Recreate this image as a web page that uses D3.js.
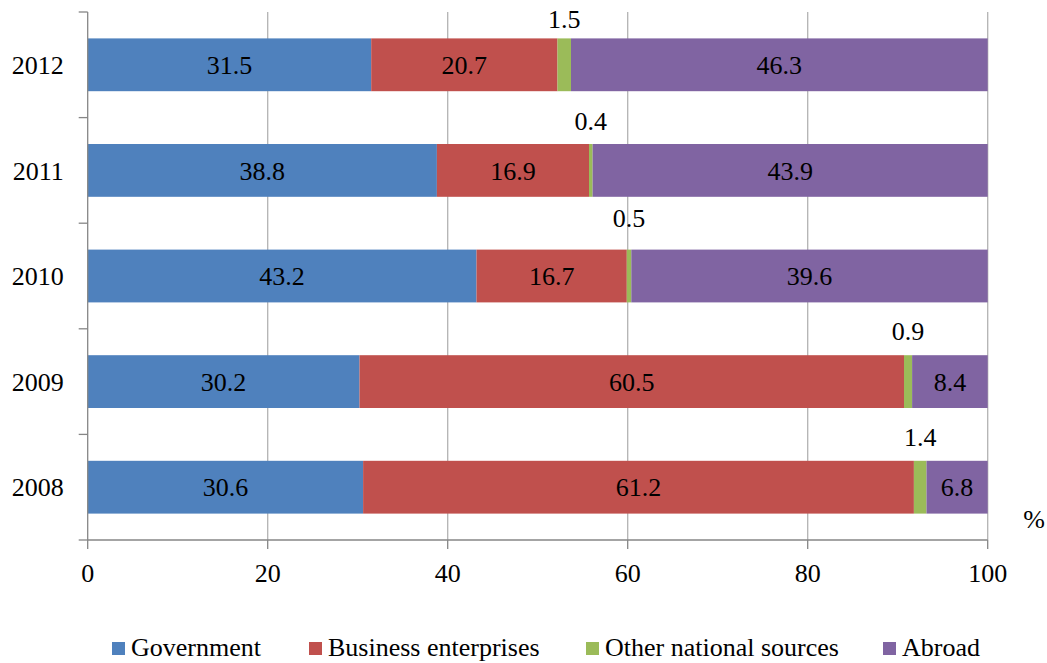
<!DOCTYPE html>
<html>
<head>
<meta charset="utf-8">
<script src="https://cdn.jsdelivr.net/npm/d3@7"></script>
<style>
  body { margin: 0; background: #fff; }
</style>
</head>
<body>
<div id="chart"></div>
<script>
// years top to bottom, as in the picture
const years = ["2012", "2011", "2010", "2009", "2008"];
const seriesNames = ["Government", "Business enterprises", "Other national sources", "Abroad"];
const government = [31.5, 38.8, 43.2, 30.2, 30.6];
const business = [20.7, 16.9, 16.7, 60.5, 61.2];
const otherNational = [1.5, 0.4, 0.5, 0.9, 1.4];
const abroad = [46.3, 43.9, 39.6, 8.4, 6.8];
const xTicks = [0, 20, 40, 60, 80, 100];

const colors = ["#4F81BD", "#C0504D", "#9BBB59", "#8064A2"];
const fontName = "'Liberation Serif', 'DejaVu Serif', 'Noto Serif', serif";

const W = 1047, H = 663;
const m = {t: 12, l: 87.7, w: 900, h: 528};
// how far the small green labels sit above their bar (moved by hand in the original)
const greenLift = [10, 14, 23, 15, 15];

// build rows for the stack
const rows = years.map((y, i) => ({
    year: y,
    "Government": government[i],
    "Business enterprises": business[i],
    "Other national sources": otherNational[i],
    "Abroad": abroad[i]
}));
const stacked = d3.stack().keys(seriesNames)(rows);

const svg = d3.select("#chart").append("svg")
    .attr("width", W).attr("height", H)
    .attr("font-family", fontName);
const g = svg.append("g").attr("transform", "translate(" + m.l + "," + m.t + ")");

const xScale = d3.scaleLinear().domain([0, 100]).range([0, m.w]);
const yScale = d3.scaleBand().domain(years).range([0, m.h]).paddingInner(0.5).paddingOuter(0.25);
const yBand = d3.scaleBand().domain(years).range([0, m.h]);

// vertical gridlines
g.selectAll(".grid").data(xTicks.slice(1)).enter().append("line")
    .attr("x1", d => xScale(d)).attr("x2", d => xScale(d))
    .attr("y1", 0).attr("y2", m.h)
    .attr("stroke", "#B3B3B3").attr("stroke-width", 1.3);

// bars
const layers = g.selectAll(".layer").data(stacked).enter().append("g")
    .attr("fill", (d, i) => colors[i]);
layers.selectAll("rect").data(d => d).enter().append("rect")
    .attr("x", d => xScale(d[0]))
    .attr("y", d => yScale(d.data.year))
    .attr("width", d => xScale(d[1]) - xScale(d[0]))
    .attr("height", yScale.bandwidth());

// value labels
stacked.forEach((layer, li) => {
    g.selectAll(".lbl" + li).data(layer).enter().append("text")
        .attr("x", d => xScale((d[0] + d[1]) / 2))
        .attr("y", (d, i) => li === 2 ? yScale(d.data.year) - greenLift[i] : yScale(d.data.year) + yScale.bandwidth() / 2)
        .attr("dy", li === 2 ? 0 : "0.35em")
        .attr("text-anchor", "middle")
        .attr("font-size", 26)
        .text(d => (d[1] - d[0]).toFixed(1));
});

// y axis
const yAxis = g.append("g");
yAxis.append("line").attr("x1", 0).attr("x2", 0).attr("y1", 0).attr("y2", m.h)
    .attr("stroke", "#868686").attr("stroke-width", 1.3);
yAxis.selectAll(".yt").data(years).enter().append("line")
    .attr("x1", -9).attr("x2", 0)
    .attr("y1", d => yBand(d)).attr("y2", d => yBand(d))
    .attr("stroke", "#868686").attr("stroke-width", 1.3);
yAxis.append("line").attr("x1", -9).attr("x2", 0).attr("y1", m.h).attr("y2", m.h)
    .attr("stroke", "#868686").attr("stroke-width", 1.3);
yAxis.selectAll(".ylab").data(years).enter().append("text")
    .attr("x", -24)
    .attr("y", d => yBand(d) + yBand.bandwidth() / 2)
    .attr("dy", "0.35em")
    .attr("text-anchor", "end")
    .attr("font-size", 26)
    .text(d => d);

// x axis
const xAxis = g.append("g").attr("transform", "translate(0," + m.h + ")");
xAxis.append("line").attr("x1", 0).attr("x2", m.w)
    .attr("stroke", "#868686").attr("stroke-width", 1.3);
xAxis.selectAll(".xt").data(xTicks).enter().append("line")
    .attr("x1", d => xScale(d)).attr("x2", d => xScale(d))
    .attr("y1", 0).attr("y2", 9)
    .attr("stroke", "#868686").attr("stroke-width", 1.3);
xAxis.selectAll(".xlab").data(xTicks).enter().append("text")
    .attr("x", d => xScale(d)).attr("y", 42)
    .attr("text-anchor", "middle")
    .attr("font-size", 26)
    .text(d => d);

svg.append("text").attr("x", 1034).attr("y", 528)
    .attr("text-anchor", "middle")
    .attr("font-size", 26).text("%");

// legend
const legendX = [112, 309, 586, 883];
const leg = svg.selectAll(".leg").data(seriesNames).enter().append("g")
    .attr("transform", (d, i) => "translate(" + legendX[i] + ",642)");
leg.append("rect").attr("width", 13).attr("height", 13)
    .attr("fill", (d, i) => colors[i]);
leg.append("text").attr("x", 19).attr("y", 14)
    .attr("font-size", 26).text(d => d);
</script>
</body>
</html>
